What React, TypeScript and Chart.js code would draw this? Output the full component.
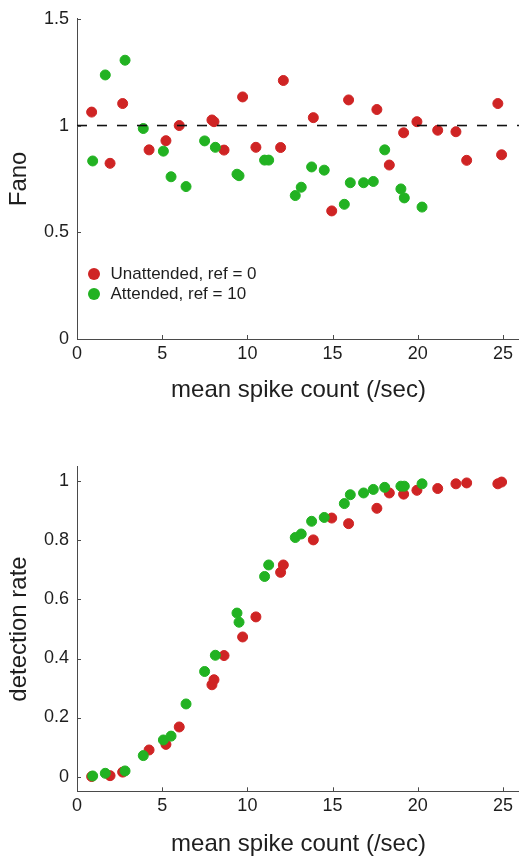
import React, { useEffect, useRef } from 'react';
import { Chart, registerables } from 'chart.js';

Chart.register(...registerables);

// ---- data ----
const SERIES_NAMES = ['Unattended, ref = 0', 'Attended, ref = 10'];
const SERIES_COLORS = ['#cf2424', '#22b222'];

const X_MIN = 0;
const X_MAX = 26;
const X_TICKS = [0, 5, 10, 15, 20, 25];
const X_TICK_LABELS = ['0', '5', '10', '15', '20', '25'];
const X_TITLE = 'mean spike count (/sec)';

const FANO_MIN = 0;
const FANO_MAX = 1.5;
const FANO_TICKS = [0, 0.5, 1, 1.5];
const FANO_TICK_LABELS = ['0', '0.5', '1', '1.5'];
const FANO_TITLE = 'Fano';

const DET_MIN = -0.05;
const DET_MAX = 1.05;
const DET_TICKS = [0, 0.2, 0.4, 0.6, 0.8, 1];
const DET_TICK_LABELS = ['0', '0.2', '0.4', '0.6', '0.8', '1'];
const DET_TITLE = 'detection rate';

const UNATT_RATE = [0.86, 1.94, 2.68, 4.23, 5.22, 6.0, 7.92, 8.04, 8.63, 9.72, 10.5, 11.95, 12.11, 13.87, 14.95, 15.94, 17.6, 18.33, 19.17, 19.95, 21.17, 22.24, 22.87, 24.7, 24.92];
const UNATT_FANO = [1.063, 0.823, 1.103, 0.886, 0.929, 1.0, 1.026, 1.018, 0.885, 1.134, 0.898, 0.897, 1.211, 1.037, 0.6, 1.12, 1.075, 0.815, 0.966, 1.018, 0.978, 0.971, 0.837, 1.103, 0.863];
const UNATT_DET = [0.0, 0.003, 0.015, 0.09, 0.109, 0.168, 0.311, 0.328, 0.41, 0.473, 0.541, 0.692, 0.717, 0.802, 0.876, 0.857, 0.909, 0.961, 0.957, 0.97, 0.976, 0.992, 0.995, 0.992, 0.998];

const ATT_RATE = [0.92, 1.66, 2.82, 3.89, 5.07, 5.52, 6.4, 7.49, 8.12, 9.39, 9.51, 11.01, 11.25, 12.81, 13.16, 13.77, 14.51, 15.69, 16.04, 16.82, 17.39, 18.06, 19.01, 19.21, 20.25];
const ATT_FANO = [0.834, 1.237, 1.306, 0.986, 0.88, 0.76, 0.714, 0.928, 0.898, 0.772, 0.765, 0.838, 0.838, 0.672, 0.711, 0.806, 0.791, 0.631, 0.732, 0.732, 0.738, 0.886, 0.703, 0.661, 0.618];
const ATT_DET = [0.002, 0.011, 0.019, 0.071, 0.124, 0.137, 0.246, 0.356, 0.411, 0.554, 0.523, 0.678, 0.717, 0.81, 0.822, 0.865, 0.878, 0.925, 0.955, 0.961, 0.973, 0.98, 0.984, 0.984, 0.992];

const REF_X = [0, 26];
const REF_FANO = [1, 1];

// ---- style ----
const FONT = "'Liberation Sans', Arial, Helvetica, sans-serif";
const AXIS_COLOR = '#4a4a4a';
const TEXT_COLOR = '#1e1e1e';
const CANVAS_W = 530;
const TICK_FONT_SIZE = 18;

const toPts = (xs: number[], ys: number[]) => xs.map((x, i) => ({ x, y: ys[i] }));

const inwardTicks = {
  id: 'inwardTicks',
  afterDraw(chart: any) {
    const ctx = chart.ctx;
    const xs = chart.scales.x;
    const ys = chart.scales.y;
    ctx.save();
    ctx.strokeStyle = AXIS_COLOR;
    ctx.lineWidth = 1;
    ctx.beginPath();
    xs.ticks.forEach((t: any) => {
      const px = Math.round(xs.getPixelForValue(t.value)) + 0.5;
      ctx.moveTo(px, ys.bottom);
      ctx.lineTo(px, ys.bottom - 4);
    });
    ys.ticks.forEach((t: any) => {
      const py = Math.round(ys.getPixelForValue(t.value)) + 0.5;
      ctx.moveTo(xs.left, py);
      ctx.lineTo(xs.left + 4, py);
    });
    ctx.stroke();
    ctx.restore();
  },
};

const customLegend = {
  id: 'customLegend',
  afterDraw(chart: any, _args: any, opts: any) {
    if (!opts || !opts.show) return;
    const ctx = chart.ctx;
    ctx.save();
    ctx.font = `17px ${FONT}`;
    ctx.textBaseline = 'middle';
    ctx.textAlign = 'left';
    const sets = chart.data.datasets.filter((d: any) => d.inLegend);
    sets.forEach((d: any, i: number) => {
      const cy = opts.y + i * opts.spacing;
      ctx.fillStyle = d.backgroundColor;
      ctx.beginPath();
      ctx.arc(opts.x, cy, 6, 0, Math.PI * 2);
      ctx.fill();
      ctx.fillStyle = TEXT_COLOR;
      ctx.fillText(d.label, opts.textX, cy + 0.5);
    });
    ctx.restore();
  },
};

function scatterSet(label: string, color: string, data: any[], order: number) {
  return {
    type: 'scatter' as const,
    label,
    data,
    backgroundColor: color,
    borderColor: color,
    borderWidth: 1,
    pointRadius: 5,
    pointHoverRadius: 5,
    order,
    inLegend: true,
  };
}

function makeConfig(p: {
  datasets: any[];
  yMin: number; yMax: number; yTicks: number[]; yLabels: string[]; yTitle: string;
  canvasH: number; areaTop: number; areaBottom: number; legend: any;
}) {
  return {
    type: 'scatter' as const,
    data: { datasets: p.datasets },
    plugins: [inwardTicks, customLegend],
    options: {
      responsive: false,
      animation: false,
      devicePixelRatio: 1,
      layout: { padding: { top: p.areaTop, right: CANVAS_W - 520, left: 0, bottom: 0 } },
      plugins: {
        legend: { display: false },
        tooltip: { enabled: false },
        customLegend: p.legend,
      },
      scales: {
        x: {
          type: 'linear',
          min: X_MIN,
          max: X_MAX,
          afterBuildTicks: (s: any) => { s.ticks = X_TICKS.map((v) => ({ value: v })); },
          afterFit: (s: any) => { s.height = p.canvasH - p.areaBottom; },
          grid: { display: true, drawOnChartArea: false, drawTicks: false },
          border: { display: true, color: AXIS_COLOR, width: 1 },
          ticks: {
            padding: 4,
            color: TEXT_COLOR,
            font: { family: FONT, size: TICK_FONT_SIZE },
            maxRotation: 0,
            autoSkip: false,
            callback: (v: number) => X_TICK_LABELS[X_TICKS.indexOf(v)] ?? '',
          },
          title: {
            display: true,
            text: X_TITLE,
            color: TEXT_COLOR,
            font: { family: FONT, size: 24 },
            padding: { top: 0, bottom: 0 },
          },
        },
        y: {
          type: 'linear',
          min: p.yMin,
          max: p.yMax,
          afterBuildTicks: (s: any) => { s.ticks = p.yTicks.map((v) => ({ value: v })); },
          afterFit: (s: any) => { s.width = 77; },
          grid: { display: true, drawOnChartArea: false, drawTicks: false },
          border: { display: true, color: AXIS_COLOR, width: 1 },
          ticks: {
            padding: 8,
            color: TEXT_COLOR,
            font: { family: FONT, size: TICK_FONT_SIZE },
            autoSkip: false,
            callback: (v: number) => p.yLabels[p.yTicks.indexOf(v)] ?? '',
          },
          title: {
            display: true,
            text: p.yTitle,
            color: TEXT_COLOR,
            font: { family: FONT, size: 24 },
            padding: { top: 5, bottom: 0 },
          },
        },
      },
    },
  };
}

function ChartCanvas({ config, width, height, top }: { config: any; width: number; height: number; top: number }) {
  const ref = useRef<HTMLCanvasElement | null>(null);
  useEffect(() => {
    if (!ref.current) return;
    const chart = new Chart(ref.current, config);
    return () => chart.destroy();
  }, [config]);
  return (
    <canvas
      ref={ref}
      width={width}
      height={height}
      style={{ position: 'absolute', left: 0, top, width, height, display: 'block' }}
    />
  );
}

const TOP_H = 405;
const BOT_TOP = 405;
const BOT_H = 859 - 405;

const topConfig = makeConfig({
  datasets: [
    {
      type: 'line',
      label: 'ref',
      data: toPts(REF_X, REF_FANO),
      borderColor: '#111111',
      borderWidth: 1.6,
      borderDash: [10, 10],
      pointRadius: 0,
      fill: false,
      order: 0,
      inLegend: false,
    },
    scatterSet(SERIES_NAMES[0], SERIES_COLORS[0], toPts(UNATT_RATE, UNATT_FANO), 2),
    scatterSet(SERIES_NAMES[1], SERIES_COLORS[1], toPts(ATT_RATE, ATT_FANO), 1),
  ],
  yMin: FANO_MIN, yMax: FANO_MAX, yTicks: FANO_TICKS, yLabels: FANO_TICK_LABELS, yTitle: FANO_TITLE,
  canvasH: TOP_H, areaTop: 14.3, areaBottom: 339,
  legend: { show: true, x: 94, textX: 110.5, y: 274, spacing: 20 },
});

const bottomConfig = makeConfig({
  datasets: [
    scatterSet(SERIES_NAMES[0], SERIES_COLORS[0], toPts(UNATT_RATE, UNATT_DET), 2),
    scatterSet(SERIES_NAMES[1], SERIES_COLORS[1], toPts(ATT_RATE, ATT_DET), 1),
  ],
  yMin: DET_MIN, yMax: DET_MAX, yTicks: DET_TICKS, yLabels: DET_TICK_LABELS, yTitle: DET_TITLE,
  canvasH: BOT_H, areaTop: 466.7 - BOT_TOP, areaBottom: 791.3 - BOT_TOP,
  legend: { show: false },
});

export default function App() {
  return (
    <div style={{ position: 'absolute', left: 0, top: 0, width: 519, height: 859, overflow: 'hidden', background: '#ffffff' }}>
      <ChartCanvas config={topConfig} width={CANVAS_W} height={TOP_H} top={0} />
      <ChartCanvas config={bottomConfig} width={CANVAS_W} height={BOT_H} top={BOT_TOP} />
    </div>
  );
}
